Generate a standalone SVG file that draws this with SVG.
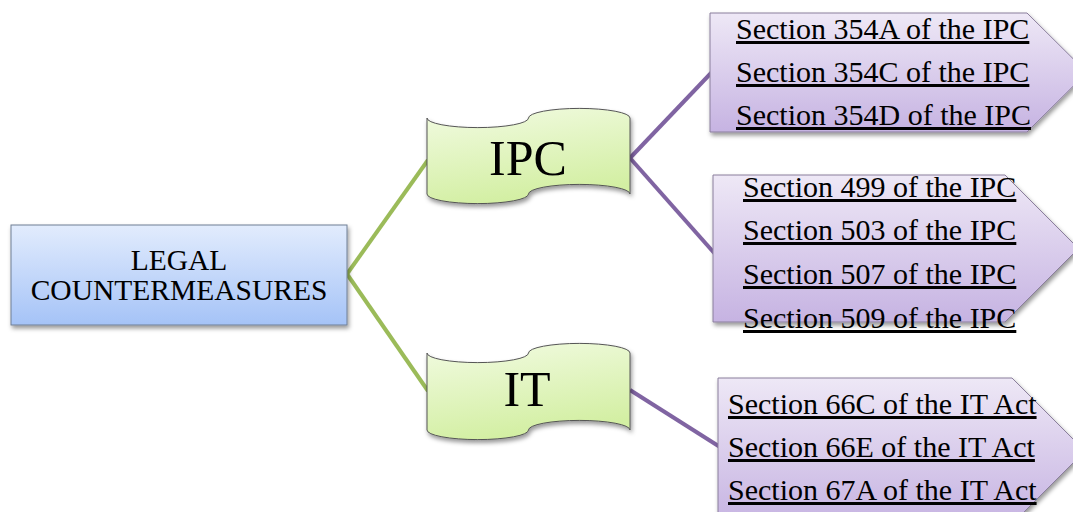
<svg xmlns="http://www.w3.org/2000/svg" width="1073" height="512" viewBox="0 0 1073 512">
<style>
text{font-family:"Liberation Serif","Times New Roman",serif;fill:#000}
.sec{font-size:30px;text-decoration:underline}
.big{font-size:50px}
.root{font-size:29.5px}
.green{stroke:#9BBB59;stroke-width:4;fill:none}
.purple{stroke:#8064A2;stroke-width:4;fill:none}
</style>
<defs>
<linearGradient id="gBlue" x1="0" y1="0" x2="0" y2="1">
<stop offset="0" stop-color="#E2ECFD"/><stop offset="1" stop-color="#A5C3F7"/>
</linearGradient>
<linearGradient id="gGreen" x1="0" y1="0" x2="0.3" y2="1">
<stop offset="0" stop-color="#F2FBE2"/><stop offset="1" stop-color="#D3EFA3"/>
</linearGradient>
<linearGradient id="gPurple" x1="0" y1="0" x2="0" y2="1">
<stop offset="0" stop-color="#EEE8F6"/><stop offset="1" stop-color="#C6B3E2"/>
</linearGradient>
<filter id="sh" x="-10%" y="-10%" width="125%" height="130%">
<feDropShadow dx="1.5" dy="3" stdDeviation="2" flood-color="#000" flood-opacity="0.4"/>
</filter>
</defs>
<g id="connectors">
<line class="green" x1="347" y1="274" x2="428" y2="160"/>
<line class="green" x1="347" y1="274" x2="428" y2="391"/>
<line class="purple" x1="630" y1="158" x2="712" y2="72"/>
<line class="purple" x1="630" y1="158" x2="716" y2="255"/>
<line class="purple" x1="630" y1="390" x2="720" y2="447"/>
</g>
<g id="root">
<rect x="11" y="225" width="336" height="100" fill="url(#gBlue)" stroke="#6F7F94" stroke-width="1" filter="url(#sh)"/>
<text class="root" x="179" y="270" text-anchor="middle">LEGAL</text>
<text class="root" x="179" y="300" text-anchor="middle">COUNTERMEASURES</text>
</g>
<g id="ipc">
<path d="M427,118 A50.75,9.6 0 0 0 528.5,118 A50.75,9.6 0 0 1 630,118 L630,194 A50.75,9.6 0 0 0 528.5,194 A50.75,9.6 0 0 1 427,194 Z" fill="url(#gGreen)" stroke="#555" stroke-width="1" filter="url(#sh)"/>
<text class="big" x="528" y="175" text-anchor="middle">IPC</text>
</g>
<g id="it">
<path d="M427,353 A50.75,9.6 0 0 0 528.5,353 A50.75,9.6 0 0 1 630,353 L630,430 A50.75,9.6 0 0 0 528.5,430 A50.75,9.6 0 0 1 427,430 Z" fill="url(#gGreen)" stroke="#555" stroke-width="1" filter="url(#sh)"/>
<text class="big" x="527" y="406" text-anchor="middle">IT</text>
</g>
<g id="box1">
<path d="M710,13 L1027,13 L1087,72.5 L1027,132 L710,132 Z" fill="url(#gPurple)" stroke="#8A7E9C" stroke-width="1" filter="url(#sh)"/>
<text class="sec" x="736" y="39">Section 354A of the IPC</text>
<text class="sec" x="736" y="82">Section 354C of the IPC</text>
<text class="sec" x="736" y="125">Section 354D of the IPC</text>
</g>
<g id="box2">
<path d="M713,175 L1005,175 L1078.5,248.5 L1005,322 L713,322 Z" fill="url(#gPurple)" stroke="#8A7E9C" stroke-width="1" filter="url(#sh)"/>
<text class="sec" x="743" y="197">Section 499 of the IPC</text>
<text class="sec" x="743" y="240">Section 503 of the IPC</text>
<text class="sec" x="743" y="284">Section 507 of the IPC</text>
<text class="sec" x="743" y="328">Section 509 of the IPC</text>
</g>
<g id="box3">
<path d="M718,378 L1012,378 L1085,451 L1012,524 L718,524 Z" fill="url(#gPurple)" stroke="#8A7E9C" stroke-width="1" filter="url(#sh)"/>
<text class="sec" x="728" y="414">Section 66C of the IT Act</text>
<text class="sec" x="728" y="457">Section 66E of the IT Act</text>
<text class="sec" x="728" y="500">Section 67A of the IT Act</text>
</g>
</svg>
